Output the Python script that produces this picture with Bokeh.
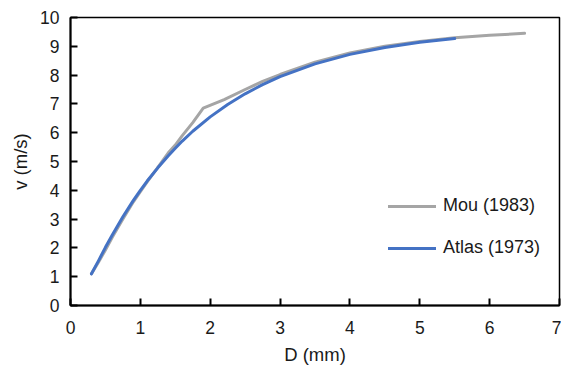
from bokeh.plotting import figure
from bokeh.models import Range1d, FixedTicker, Legend, LegendItem
from bokeh.embed import file_html
from bokeh.resources import INLINE

# Data
mou_d = [0.3, 0.4, 0.5, 0.6, 0.75, 0.9, 1.0, 1.1, 1.25, 1.4, 1.5, 1.6, 1.75, 1.9,
         2.2, 2.5, 2.75, 3.0, 3.5, 4.0, 4.5, 5.0, 5.5, 6.0, 6.5]
mou_v = [1.1, 1.5, 1.93, 2.38, 3.0, 3.6, 3.95, 4.3, 4.8, 5.3, 5.57, 5.9, 6.35, 6.85,
         7.15, 7.5, 7.78, 8.02, 8.45, 8.77, 9.0, 9.17, 9.3, 9.38, 9.45]

atlas_d = [0.3, 0.4, 0.5, 0.6, 0.75, 0.9, 1.0, 1.1, 1.25, 1.4, 1.5, 1.6, 1.75, 2.0,
           2.25, 2.5, 2.75, 3.0, 3.5, 4.0, 4.5, 5.0, 5.5]
atlas_v = [1.1, 1.55, 2.02, 2.46, 3.08, 3.65, 4.0, 4.33, 4.78, 5.2, 5.46, 5.71, 6.05, 6.55,
           6.98, 7.35, 7.67, 7.95, 8.39, 8.72, 8.96, 9.14, 9.27]

x_ticks = [0, 1, 2, 3, 4, 5, 6, 7]
y_ticks = [0, 1, 2, 3, 4, 5, 6, 7, 8, 9, 10]

FONT = "Liberation Sans"

p = figure(frame_width=489, frame_height=288, output_backend="svg", toolbar_location=None,
           x_range=Range1d(0, 7), y_range=Range1d(0, 10),
           min_border_left=70, min_border_top=17, min_border_right=2, min_border_bottom=50)

p.xgrid.visible = False
p.ygrid.visible = False
p.outline_line_color = "black"
p.outline_line_width = 1.5

for ax, ticks in ((p.xaxis, x_ticks), (p.yaxis, y_ticks)):
    ax.ticker = FixedTicker(ticks=ticks)
    ax.major_tick_in = 7
    ax.major_tick_out = 0
    ax.minor_tick_line_color = None
    ax.axis_line_width = 2
    ax.major_tick_line_width = 2
    ax.axis_line_color = "black"
    ax.major_tick_line_color = "black"
    ax.major_label_text_font = FONT
    ax.major_label_text_font_size = "17.5px"
    ax.major_label_text_color = "#1a1a1a"
    ax.axis_label_text_font = FONT
    ax.axis_label_text_font_size = "18.5px"
    ax.axis_label_text_font_style = "normal"
    ax.axis_label_text_color = "#1a1a1a"

p.xaxis.axis_label = "D (mm)"
p.yaxis.axis_label = "v (m/s)"
p.xaxis.major_label_standoff = 15
p.yaxis.major_label_standoff = 11
p.xaxis.axis_label_standoff = 7
p.yaxis.axis_label_standoff = 6

r_mou = p.line(mou_d, mou_v, line_color="#A5A5A5", line_width=3, line_cap="round", line_join="round")
r_atlas = p.line(atlas_d, atlas_v, line_color="#4472C4", line_width=3, line_cap="round", line_join="round")

legend = Legend(items=[LegendItem(label="Mou (1983)", renderers=[r_mou]),
                       LegendItem(label="Atlas (1973)", renderers=[r_atlas])],
                location=(318, 47))
legend.border_line_color = None
legend.background_fill_alpha = 0
legend.padding = 0
legend.margin = 0
legend.glyph_width = 48
legend.glyph_height = 20
legend.label_height = 20
legend.spacing = 21
legend.label_standoff = 7
legend.label_text_font = FONT
legend.label_text_font_size = "18px"
legend.label_text_color = "#1a1a1a"
p.add_layout(legend, "center")

open("out.html", "w").write(file_html(p, INLINE))
